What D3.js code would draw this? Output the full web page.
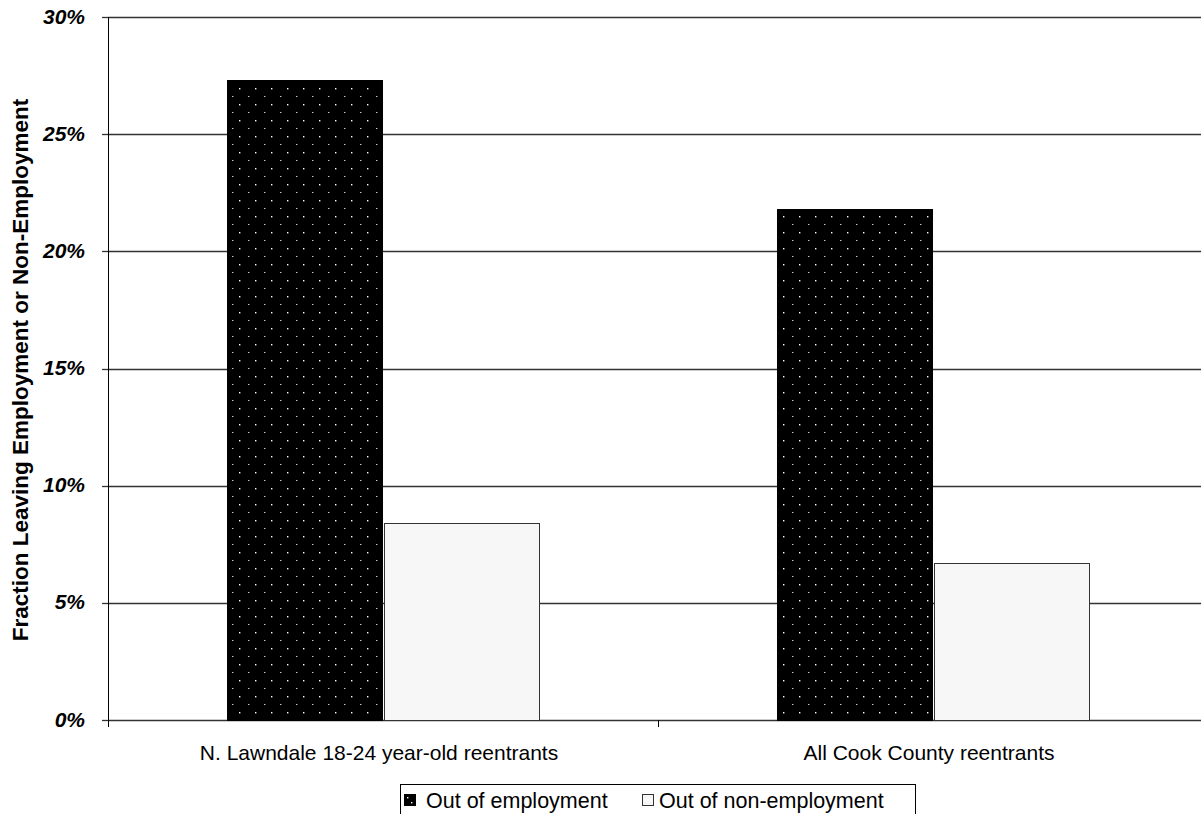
<!DOCTYPE html>
<html>
<head>
<meta charset="utf-8">
<script src="https://cdn.jsdelivr.net/npm/d3@7"></script>
<style>
  html, body { margin: 0; padding: 0; background: #fff; }
  svg { display: block; font-family: Arial, "Liberation Sans", sans-serif; }
</style>
</head>
<body>
<svg id="chart" width="1201" height="814"></svg>
<script>
// Data
const categories = ["N. Lawndale 18-24 year-old reentrants", "All Cook County reentrants"];
const seriesNames = ["Out of employment", "Out of non-employment"];
const outOfEmployment = [0.273, 0.218];
const outOfNonEmployment = [0.084, 0.067];
const yTicks = [0, 0.05, 0.10, 0.15, 0.20, 0.25, 0.30];

const svg = d3.select("#chart");
const margin = { left: 108, top: 17, right: -7, bottom: 94 };
const W = 1201, H = 814;
const plotW = W - margin.left - margin.right; // 1100
const plotH = H - margin.top - margin.bottom; // 703

// Black fill with a staggered grid of small white dots
const defs = svg.append("defs");
const pat = defs.append("pattern")
  .attr("id", "dots")
  .attr("patternUnits", "userSpaceOnUse")
  .attr("width", 16).attr("height", 16)
  .attr("x", 0).attr("y", 0);
pat.append("rect").attr("width", 16).attr("height", 16).attr("fill", "#000");
pat.append("rect").attr("x", 12).attr("y", 15).attr("width", 1.4).attr("height", 1.4).attr("fill", "#cfcfcf");
pat.append("rect").attr("x", 3).attr("y", 7).attr("width", 1.4).attr("height", 1.4).attr("fill", "#ffffff");

const g = svg.append("g").attr("transform", `translate(${margin.left},${margin.top})`);

const x0 = d3.scaleBand().domain(categories).range([0, plotW]).paddingInner(0).paddingOuter(0);
const groupW = 312;
const x1 = d3.scaleBand().domain(seriesNames).range([0, groupW]).padding(0);
const y = d3.scaleLinear().domain([0, 0.30]).range([plotH, 0]);

// Gridlines
g.selectAll(".grid").data(yTicks).join("line")
  .attr("class", "grid")
  .attr("x1", 0).attr("x2", plotW)
  .attr("y1", d => Math.round(y(d)) + 0.5).attr("y2", d => Math.round(y(d)) + 0.5)
  .attr("stroke", "#333").attr("stroke-width", 1.3);

// Bars
const values = [outOfEmployment, outOfNonEmployment];
const fills = ["url(#dots)", "#f7f7f7"];
const strokes = ["#000", "#333"];
categories.forEach((c, ci) => {
  const groupLeft = Math.round(x0(c) + x0.bandwidth() / 2 - groupW / 2);
  seriesNames.forEach((s, si) => {
    const v = values[si][ci];
    const top = Math.round(y(v));
    g.append("rect")
      .attr("x", groupLeft + x1(s) + (si === 1 ? 1 : 0) + 0.5)
      .attr("y", top + 0.5)
      .attr("width", x1.bandwidth() - 1)
      .attr("height", Math.round(y(0)) - top)
      .attr("fill", fills[si])
      .attr("stroke", strokes[si])
      .attr("stroke-width", 1);
  });
});

// Y axis line
g.append("line")
  .attr("x1", 0.5).attr("x2", 0.5).attr("y1", 0).attr("y2", plotH + 7)
  .attr("stroke", "#000").attr("stroke-width", 1);
// Y tick marks
g.selectAll(".ytick").data(yTicks).join("line")
  .attr("class", "ytick")
  .attr("x1", -6).attr("x2", 0)
  .attr("y1", d => Math.round(y(d)) + 0.5).attr("y2", d => Math.round(y(d)) + 0.5)
  .attr("stroke", "#333").attr("stroke-width", 1.3);
// Y tick labels
g.selectAll(".ylab").data(yTicks).join("text")
  .attr("class", "ylab")
  .attr("x", -23).attr("y", d => y(d) + 6.5)
  .attr("text-anchor", "end")
  .attr("font-size", 21).attr("font-weight", "bold").attr("font-style", "italic")
  .attr("fill", "#000")
  .text(d3.format(".0%"));

// Category separator tick
g.selectAll(".xtick").data([categories[1]]).join("line")
  .attr("class", "xtick")
  .attr("x1", d => x0(d) + 0.5).attr("x2", d => x0(d) + 0.5)
  .attr("y1", plotH).attr("y2", plotH + 7)
  .attr("stroke", "#000").attr("stroke-width", 1);

// Category labels
g.selectAll(".xlab").data(categories).join("text")
  .attr("class", "xlab")
  .attr("x", d => x0(d) + x0.bandwidth() / 2 - 4)
  .attr("y", plotH + 40)
  .attr("text-anchor", "middle")
  .attr("font-size", 21).attr("fill", "#000")
  .text(d => d);

// Y axis title
svg.append("text")
  .attr("transform", `translate(28,370) rotate(-90)`)
  .attr("text-anchor", "middle")
  .attr("font-size", 22.5).attr("font-weight", "bold").attr("fill", "#000")
  .text("Fraction Leaving Employment or Non-Employment");

// Legend
const leg = svg.append("g");
leg.append("rect")
  .attr("x", 400.5).attr("y", 784.5).attr("width", 515).attr("height", 40)
  .attr("fill", "#fff").attr("stroke", "#000").attr("stroke-width", 1);
leg.append("rect").attr("x", 404.5).attr("y", 794.5).attr("width", 11).attr("height", 11)
  .attr("fill", "#000").attr("stroke", "#000");
leg.append("rect").attr("x", 407).attr("y", 797).attr("width", 1.4).attr("height", 1.4).attr("fill", "#fff");
leg.append("rect").attr("x", 411).attr("y", 802).attr("width", 1.4).attr("height", 1.4).attr("fill", "#fff");
leg.append("text").attr("x", 426).attr("y", 808).attr("font-size", 21.5).attr("fill", "#000").text(seriesNames[0]);
leg.append("rect").attr("x", 642.5).attr("y", 794.5).attr("width", 11).attr("height", 11)
  .attr("fill", "#f7f7f7").attr("stroke", "#333");
leg.append("text").attr("x", 659).attr("y", 808).attr("font-size", 21.5).attr("fill", "#000").text(seriesNames[1]);
</script>
</body>
</html>
